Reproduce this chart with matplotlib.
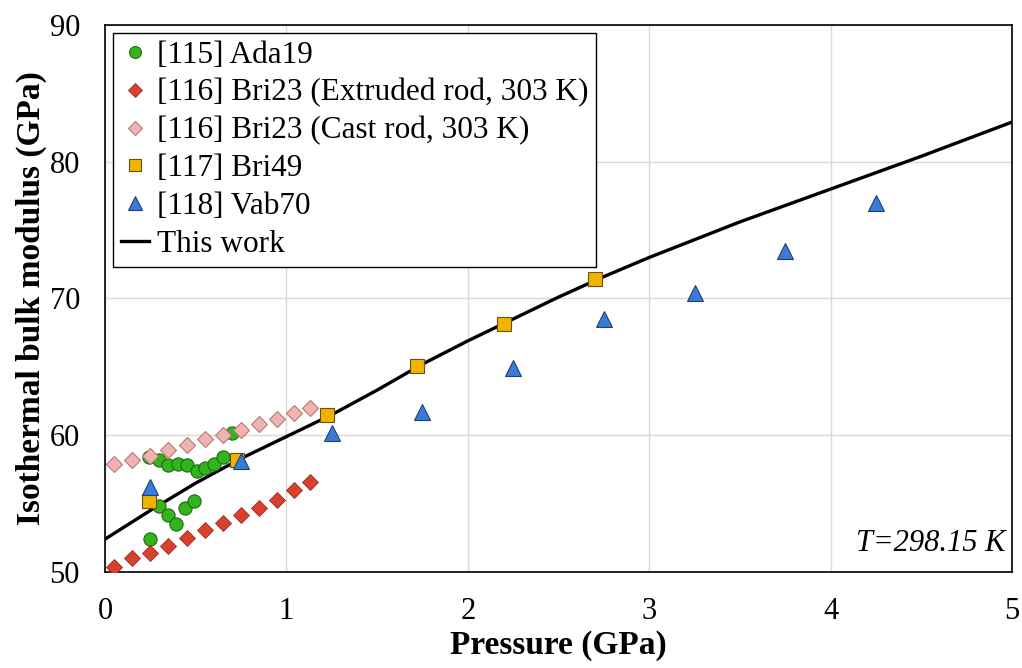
import matplotlib
matplotlib.use('Agg')
import matplotlib.pyplot as plt

plt.rcParams['font.family'] = ['Liberation Serif', 'DejaVu Serif']

# [115] Ada19
ada_p = [0.244, 0.30, 0.35, 0.40, 0.45, 0.505, 0.55, 0.60, 0.65, 0.70,
         0.248, 0.30, 0.345, 0.39, 0.44, 0.49]
ada_b = [58.4, 58.2, 57.8, 57.9, 57.8, 57.4, 57.6, 57.9, 58.4, 60.2,
         52.4, 54.85, 54.2, 53.5, 54.7, 55.2]

# [116] Bri23 extruded rod
ext_p = [0.05, 0.15, 0.25, 0.35, 0.45, 0.55, 0.65, 0.75, 0.85, 0.95, 1.04, 1.13]
ext_b = [50.4, 51.0, 51.4, 51.9, 52.5, 53.1, 53.6, 54.2, 54.7, 55.3, 56.0, 56.6]

# [116] Bri23 cast rod
cast_p = [0.05, 0.15, 0.25, 0.35, 0.45, 0.55, 0.65, 0.75, 0.85, 0.95, 1.04, 1.13]
cast_b = [57.9, 58.2, 58.5, 58.9, 59.3, 59.7, 60.0, 60.4, 60.8, 61.2, 61.6, 62.0]

# [117] Bri49
bri49_p = [0.244, 0.73, 1.226, 1.72, 2.20, 2.70]
bri49_b = [55.2, 58.2, 61.5, 65.1, 68.1, 71.4]

# [118] Vab70
vab_p = [0.25, 0.75, 1.25, 1.75, 2.25, 2.75, 3.25, 3.75, 4.25]
vab_b = [56.2, 58.1, 60.2, 61.7, 64.9, 68.5, 70.4, 73.5, 77.0]

# This work
calc_p = [0, 0.25, 0.5, 0.75, 1.0, 1.25, 1.5, 1.75, 2.0, 2.25, 2.5, 2.75,
          3.0, 3.25, 3.5, 3.75, 4.0, 4.25, 4.5, 4.75, 5.0]
calc_b = [52.4, 54.5, 56.5, 58.3, 59.9, 61.5, 63.3, 65.2, 66.9, 68.5, 70.1, 71.6,
          73.0, 74.3, 75.6, 76.8, 78.0, 79.2, 80.4, 81.65, 82.9]

fig = plt.figure(figsize=(10.22, 6.68), dpi=100)
ax = fig.add_axes([0.1027, 0.1437, 0.8875, 0.8189])

ax.plot(ada_p, ada_b, 'o', ms=9.5, mfc='#33b41c', mec='#1d6b10', mew=0.8,
        label='[115] Ada19', zorder=3)
ax.plot(ext_p, ext_b, 'D', ms=8.3, mfc='#d9412f', mec='#a02a1e', mew=0.6,
        label='[116] Bri23 (Extruded rod, 303 K)', zorder=3)
ax.plot(cast_p, cast_b, 'D', ms=8.3, mfc='#f0b4b0', mec='#b57a75', mew=0.8,
        label='[116] Bri23 (Cast rod, 303 K)', zorder=3)
ax.plot(bri49_p, bri49_b, 's', ms=9.5, mfc='#f0b400', mec='#6b4e10', mew=0.8,
        label='[117] Bri49', zorder=3)
ax.plot(vab_p, vab_b, '^', ms=11, mfc='#3a7bd5', mec='#1f3f7a', mew=0.8,
        label='[118] Vab70', zorder=3)
ax.plot(calc_p, calc_b, '-', color='black', lw=2.4, label='This work', zorder=2,
        solid_joinstyle='round')

ax.set_xlim(0, 5)
ax.set_ylim(50, 90)
ax.set_xticks([0, 1, 2, 3, 4, 5])
ax.set_yticks([50, 60, 70, 80, 90])
ax.grid(True, color='#d9d9d9', lw=1.0)
ax.set_axisbelow(True)
for s in ax.spines.values():
    s.set_color('black')
    s.set_linewidth(1.2)
ax.tick_params(length=0, labelsize=22, pad=18)

ax.set_xlabel('Pressure (GPa)', fontsize=24, fontweight='bold', labelpad=3)
ax.set_ylabel('Isothermal bulk modulus (GPa)', fontsize=24, fontweight='bold', labelpad=2)

ax.text(0.993, 0.025, 'T=298.15 K', transform=ax.transAxes, ha='right', va='bottom',
        fontsize=22, style='italic')

leg = ax.legend(loc='upper left', fontsize=22.5, frameon=True, fancybox=False,
                edgecolor='black', framealpha=1, borderaxespad=0.25,
                handlelength=0.9, handletextpad=0.25, labelspacing=0.28,
                borderpad=0.25, markerscale=0.9)
leg.get_frame().set_linewidth(1.0)

fig.savefig('out.png', dpi=100)
